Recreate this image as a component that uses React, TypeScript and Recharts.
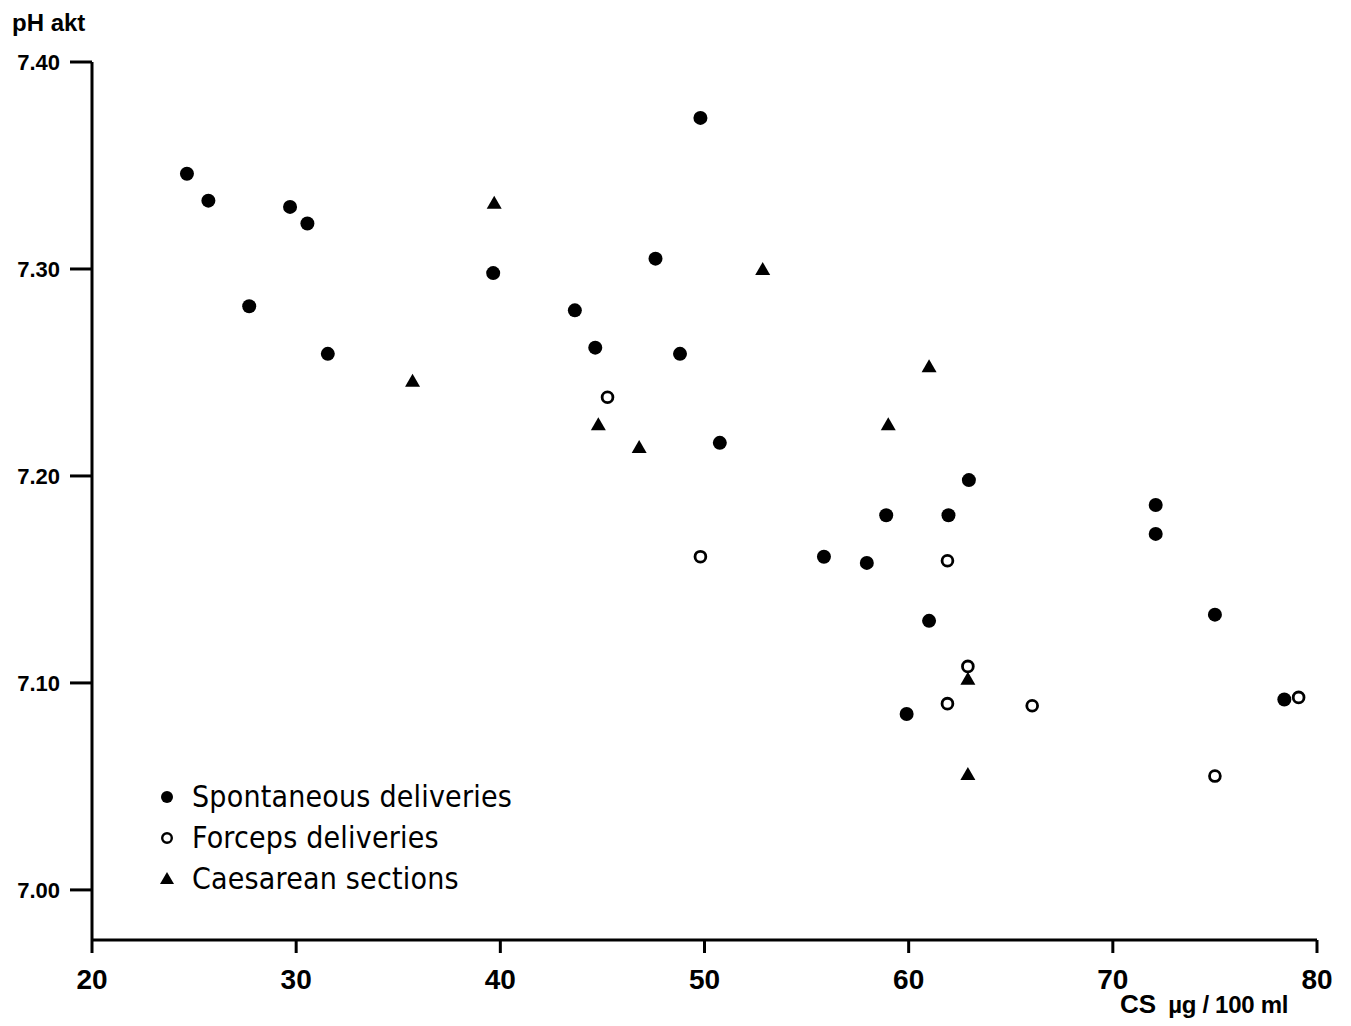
import React from "react"
import { ScatterChart, Scatter, XAxis, YAxis, Legend, Label } from "recharts"

// CS (µg/100 ml) vs pH akt
const spontaneous = [
  { x: 24.65, y: 7.346 }, { x: 25.7, y: 7.333 }, { x: 29.7, y: 7.33 }, { x: 30.55, y: 7.322 },
  { x: 27.7, y: 7.282 }, { x: 31.55, y: 7.259 }, { x: 39.65, y: 7.298 }, { x: 43.65, y: 7.28 },
  { x: 44.65, y: 7.262 }, { x: 47.6, y: 7.305 }, { x: 49.8, y: 7.373 }, { x: 48.8, y: 7.259 },
  { x: 50.75, y: 7.216 }, { x: 55.85, y: 7.161 }, { x: 57.95, y: 7.158 }, { x: 58.9, y: 7.181 },
  { x: 61.95, y: 7.181 }, { x: 62.95, y: 7.198 }, { x: 61.0, y: 7.13 }, { x: 59.9, y: 7.085 },
  { x: 72.1, y: 7.186 }, { x: 72.1, y: 7.172 }, { x: 75.0, y: 7.133 }, { x: 78.4, y: 7.092 },
]

const forceps = [
  { x: 45.25, y: 7.238 }, { x: 49.8, y: 7.161 }, { x: 61.9, y: 7.159 }, { x: 62.9, y: 7.108 },
  { x: 61.9, y: 7.09 }, { x: 66.05, y: 7.089 }, { x: 79.1, y: 7.093 }, { x: 75.0, y: 7.055 },
]

const caesarean = [
  { x: 39.7, y: 7.332 }, { x: 52.85, y: 7.3 }, { x: 35.7, y: 7.246 }, { x: 44.8, y: 7.225 },
  { x: 46.8, y: 7.214 }, { x: 61.0, y: 7.253 }, { x: 59.0, y: 7.225 }, { x: 62.9, y: 7.102 },
  { x: 62.9, y: 7.056 },
]

const xTicks = [20, 30, 40, 50, 60, 70, 80]
const yTicks = [7.0, 7.1, 7.2, 7.3, 7.4]

const legendItems = [
  { label: "Spontaneous deliveries", kind: "dot" },
  { label: "Forceps deliveries", kind: "ring" },
  { label: "Caesarean sections", kind: "tri" },
]

const tickFont = "'Liberation Sans', Arial, sans-serif"
const legendFont = "'DejaVu Sans Condensed', 'Liberation Sans Narrow', sans-serif"

const Dot = (p: any) => <circle cx={p.cx} cy={p.cy} r={7} fill="#000" />
const Ring = (p: any) => <circle cx={p.cx} cy={p.cy} r={5.4} fill="#fff" stroke="#000" strokeWidth={2.8} />
const Tri = (p: any) => (
  <polygon points={`${p.cx},${p.cy - 7} ${p.cx + 7.5},${p.cy + 6} ${p.cx - 7.5},${p.cy + 6}`} fill="#000" />
)

function LegendIcon({ kind }: { kind: string }) {
  return (
    <svg width={20} height={20} style={{ display: "block" }}>
      {kind === "dot" && <circle cx={10} cy={10} r={6} fill="#000" />}
      {kind === "ring" && <circle cx={10} cy={10} r={4.8} fill="#fff" stroke="#000" strokeWidth={2.4} />}
      {kind === "tri" && <polygon points="10,3 17,15 3,15" fill="#000" />}
    </svg>
  )
}

function LegendBox() {
  return (
    <div style={{ fontFamily: legendFont, fontSize: 30, color: "#000" }}>
      {legendItems.map((it) => (
        <div key={it.label} style={{ display: "flex", alignItems: "center", height: 41 }}>
          <LegendIcon kind={it.kind} />
          <span style={{ marginLeft: 15, letterSpacing: 0.2 }}>{it.label}</span>
        </div>
      ))}
    </div>
  )
}

export default function App() {
  return (
    <ScatterChart width={1335} height={1010} margin={{ top: 54, right: 26, bottom: 18, left: 24 }}>
      <XAxis
        type="number"
        dataKey="x"
        domain={[20, 80]}
        ticks={xTicks}
        height={60}
        axisLine={{ stroke: "#000", strokeWidth: 3 }}
        tickLine={{ stroke: "#000", strokeWidth: 3 }}
        tickSize={13}
        tickMargin={16}
        tick={{ fill: "#000", fontSize: 28, fontWeight: 700, fontFamily: tickFont }}
      >
        <Label
          content={() => (
            <text x={1112} y={1005} fill="#000" fontFamily={tickFont}>
              <tspan fontSize={26} fontWeight={600}>CS</tspan>
              <tspan dx={12} fontSize={24} fontWeight={700} letterSpacing={-0.3}>µg / 100 ml</tspan>
            </text>
          )}
        />
      </XAxis>
      <YAxis
        type="number"
        dataKey="y"
        domain={[6.9758, 7.4]}
        allowDataOverflow
        ticks={yTicks}
        width={60}
        tickFormatter={(v: number) => v.toFixed(2)}
        axisLine={{ stroke: "#000", strokeWidth: 3 }}
        tickLine={{ stroke: "#000", strokeWidth: 3 }}
        tickSize={22}
        tickMargin={10}
        tick={{ fill: "#000", fontSize: 22, fontWeight: 700, fontFamily: tickFont }}
      >
        <Label
          content={() => (
            <text x={4} y={23} fill="#000" fontSize={24} fontWeight={700} fontFamily={tickFont}>
              pH akt
            </text>
          )}
        />
      </YAxis>
      <Legend
        layout="vertical"
        align="center"
        verticalAlign="middle"
        content={() => <LegendBox />}
        wrapperStyle={{ left: 149, top: 768, width: 420, height: 130 }}
      />
      <Scatter name="Spontaneous deliveries" data={spontaneous} shape={Dot} isAnimationActive={false} />
      <Scatter name="Forceps deliveries" data={forceps} shape={Ring} isAnimationActive={false} />
      <Scatter name="Caesarean sections" data={caesarean} shape={Tri} isAnimationActive={false} />
    </ScatterChart>
  )
}
